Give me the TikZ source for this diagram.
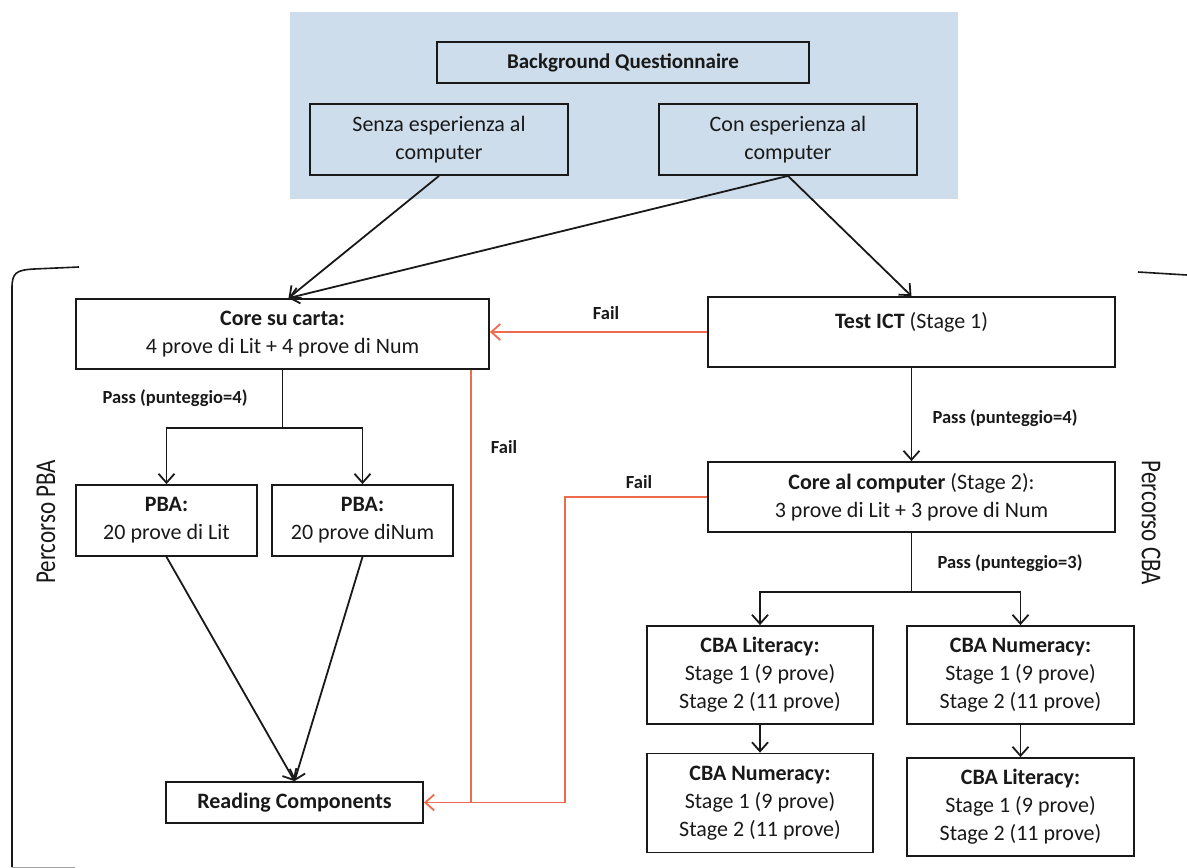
\documentclass[tikz,border=0pt]{standalone}
\usepackage{fontspec}
\setmainfont{Carlito}
\usetikzlibrary{arrows.meta,calc}
\definecolor{bgblue}{RGB}{206,221,235}
\definecolor{failc}{RGB}{238,108,78}
\definecolor{ink}{RGB}{25,25,25}
\begin{document}
\begin{tikzpicture}[x=1pt,y=-1pt,
  box/.style={draw=ink, line width=1.8pt, inner sep=0pt, align=center, text=ink,
              font=\fontsize{22}{28}\selectfont},
  txt/.style={text=ink, inner sep=0pt, font=\fontsize{22}{28}\selectfont},
  lbl/.style={text=ink, inner sep=0pt, font=\bfseries\fontsize{18.5}{21}\selectfont},
  side/.style={text=ink, inner sep=0pt, font=\fontsize{23}{27}\selectfont},
  ln/.style={draw=ink, line width=1.8pt},
  arr/.style={ln, -{Straight Barb[length=9pt,width=16pt,line width=1.8pt]}},
  fail/.style={draw=failc, line width=1.8pt},
  failarr/.style={fail, -{Straight Barb[length=9pt,width=16pt,line width=1.8pt]}}]
\useasboundingbox (0,0) rectangle (1187,868);
\fill[bgblue] (290,12) rectangle (958,199);

% nodes
\node[box, minimum width=372, minimum height=41, font=\bfseries\fontsize{21}{25}\selectfont] (bq) at (623,62.5) {Background Questionnaire};
\node[box, minimum width=258, minimum height=71] (senza) at (439,139.5) {Senza esperienza al\\computer};
\node[box, minimum width=258, minimum height=71] (con) at (788,139.5) {Con esperienza al\\computer};
\node[box, minimum width=413, minimum height=70] (carta) at (282.5,334) {\textbf{Core su carta:}\\4 prove di Lit + 4 prove di Num};
\node[box, minimum width=407, minimum height=70] (ict) at (911.5,332) {};
\node[txt] (ictt) at (911.5,322) {\textbf{Test ICT} (Stage 1)};
\node[box, minimum width=407, minimum height=70] (cc) at (911.5,497) {\textbf{Core al computer} (Stage 2):\\3 prove di Lit + 3 prove di Num};
\node[box, minimum width=181, minimum height=71] (pbal) at (166.5,520.5) {\textbf{PBA:}\\20 prove di Lit};
\node[box, minimum width=181, minimum height=71] (pbar) at (362.5,520.5) {\textbf{PBA:}\\20 prove diNum};
\node[box, minimum width=257, minimum height=41] (rc) at (294.5,802.5) {\textbf{Reading Components}};
\node[box, minimum width=226, minimum height=98] (cbalit) at (760,675) {\textbf{CBA Literacy:}\\Stage 1 (9 prove)\\Stage 2 (11 prove)};
\node[box, minimum width=227, minimum height=98] (cbanum) at (1020.5,675) {\textbf{CBA Numeracy:}\\Stage 1 (9 prove)\\Stage 2 (11 prove)};
\node[box, minimum width=226, minimum height=99] (cbanumb) at (760,803) {\textbf{CBA Numeracy:}\\Stage 1 (9 prove)\\Stage 2 (11 prove)};
\node[box, minimum width=227, minimum height=98] (cbalitb) at (1020.5,807) {\textbf{CBA Literacy:}\\Stage 1 (9 prove)\\Stage 2 (11 prove)};

% labels
\node[lbl] (fail1) at (606,313) {Fail};
\node[lbl] (fail2) at (504,447) {Fail};
\node[lbl] (fail3) at (639,482) {Fail};
\node[lbl] (pass1) at (175,398) {Pass (punteggio=4)};
\node[lbl] (pass2) at (1005,418) {Pass (punteggio=4)};
\node[lbl] (pass3) at (1010,563) {Pass (punteggio=3)};
\node[side, rotate=90] (ppba) at (46,522) {\scalebox{1}[1.25]{Percorso PBA}};
\node[side, rotate=-90] (pcba) at (1151,523) {\scalebox{1}[1.25]{Percorso CBA}};

% coordinates
\coordinate (cartaIn) at ([xshift=6pt]carta.north);
\coordinate (split1) at ($(carta.south)+(0,58)$);
\coordinate (split2) at ($(cc.south)+(0,59)$);
\coordinate (o1) at ([xshift=-19pt]carta.south east);
\coordinate (ojoin) at (o1 |- rc.east);
\coordinate (o2) at (565,802.5);

% black connectors
\draw[arr] (senza.south) -- (cartaIn);
\draw[arr] (con.south) -- (cartaIn);
\draw[arr] (con.south) -- (ict.north);
\draw[ln] (carta.south) -- (split1);
\draw[arr] (split1) -| (pbal.north);
\draw[arr] (split1) -| (pbar.north);
\draw[arr] (pbal.south) -- (rc.north);
\draw[arr] (pbar.south) -- (rc.north);
\draw[arr] (ict.south) -- (cc.north);
\draw[ln] (cc.south) -- (split2);
\draw[arr] (split2) -| (cbalit.north);
\draw[arr] (split2) -| (cbanum.north);
\draw[arr] (cbalit.south) -- (cbanumb.north);
\draw[arr] (cbanum.south) -- (cbalitb.north);

% fail connectors
\draw[failarr] (ict.west) -- (ict.west -| carta.east);
\draw[failarr] (o1) |- (rc.east);
\draw[fail] (cc.west) -| (o2) -- (ojoin);

% brackets
\draw[ink, line width=1.6pt] (79,267) -- (34,269) .. controls (16,270) and (12,273) .. (12,288) -- (12,867);
\draw[ink!40, line width=0.8pt] (12,867) -- (75,867);
\draw[ink, line width=1.6pt] (1138,272) -- (1187,275);
\end{tikzpicture}
\end{document}
